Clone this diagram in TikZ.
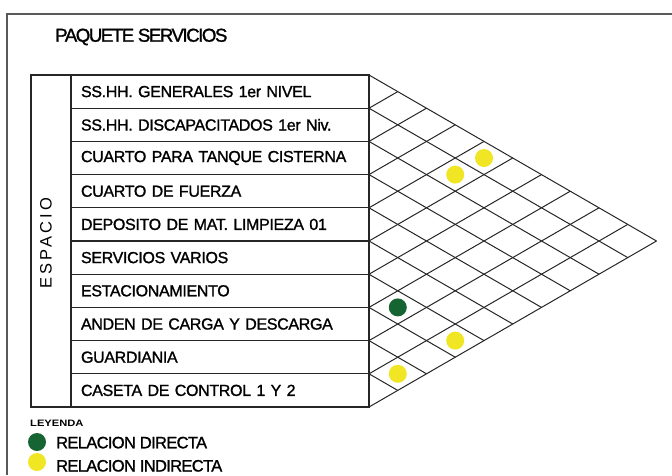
\documentclass[tikz,border=0pt]{standalone}
\usepackage{fontspec}
\setmainfont[FakeBold=1.3, LetterSpace=-2]{Liberation Sans}
\newfontfamily\titlefont[FakeBold=1.3, LetterSpace=-8]{Liberation Sans}
\newfontfamily\spacedfont[LetterSpace=19]{Liberation Sans}
\newfontfamily\legfont[FakeBold=1.3, LetterSpace=-4]{Liberation Sans}
\newfontfamily\leyfont[FakeStretch=1.2]{Liberation Sans}
\usepackage{xcolor}
\usepackage{tikz}
\usetikzlibrary{positioning}
\definecolor{reldirecta}{RGB}{22,100,50}
\definecolor{relindirecta}{RGB}{240,230,35}

\begin{document}
\begin{tikzpicture}[x=1pt, y=-1pt,
  espbox/.style={rectangle, draw=black!85, line width=1.1pt,
    text width=278pt, align=left, inner xsep=10pt, inner ysep=0pt,
    minimum height=33.2pt, outer sep=0pt,
    font=\fontsize{16}{17}\selectfont},
  colbox/.style={rectangle, draw=black!85, line width=1.1pt,
    minimum width=40pt, minimum height=332pt, inner sep=0pt, outer sep=0pt},
  gridline/.style={draw=black!85, line width=1pt},
  frame/.style={draw=black!65, line width=1.5pt},
  directa/.style={circle, fill=reldirecta, minimum size=18pt, inner sep=0pt},
  indirecta/.style={circle, fill=relindirecta, minimum size=18pt, inner sep=0pt},
  legtext/.style={anchor=base west, inner sep=0pt, font=\legfont\fontsize{16.5}{17}\selectfont}
]
\useasboundingbox (0,0) rectangle (672,475);
\draw[frame] (672,14) -- (7,14) -- (7,475);

\node[anchor=base west, inner sep=0pt, font=\titlefont\fontsize{18.7}{20}\selectfont] (title) at (55,41.7) {PAQUETE SERVICIOS};

% filas de espacios
\node[espbox, anchor=north west] (r1) at (71,75) {SS.HH. GENERALES 1er NIVEL};
\node[espbox, below=0pt of r1] (r2) {SS.HH. DISCAPACITADOS 1er Niv.};
\node[espbox, below=0pt of r2] (r3) {CUARTO PARA TANQUE CISTERNA};
\node[espbox, below=0pt of r3] (r4) {CUARTO DE FUERZA};
\node[espbox, below=0pt of r4] (r5) {DEPOSITO DE MAT. LIMPIEZA 01};
\node[espbox, below=0pt of r5] (r6) {SERVICIOS VARIOS};
\node[espbox, below=0pt of r6] (r7) {ESTACIONAMIENTO};
\node[espbox, below=0pt of r7] (r8) {ANDEN DE CARGA Y DESCARGA};
\node[espbox, below=0pt of r8] (r9) {GUARDIANIA};
\node[espbox, below=0pt of r9] (r10) {CASETA DE CONTROL 1 Y 2};

\node[colbox, anchor=north east] (col) at (r1.north west) {};
\node[rotate=90, font=\spacedfont\fontsize{16.5}{16.5}\selectfont] (esp) at ([xshift=-5pt,yshift=-2pt]col.center) {ESPACIO};

% matriz de relaciones
\coordinate (tri) at (r1.north east);
\foreach \k in {0,...,10}{
  \draw[gridline] ([yshift=-\k*33.2pt]tri) -- ++({(10-\k)*28.75},{(10-\k)*16.6});
  \draw[gridline] ([yshift=-\k*33.2pt]tri) -- ++({\k*28.75},{-\k*16.6});
}

\node[indirecta] (d1) at (484,158.0) {};
\node[indirecta] (d2) at (455.2,174.6) {};
\node[directa] (d3) at (397.8,307.4) {};
\node[indirecta] (d4) at (455.2,340.6) {};
\node[indirecta] (d5) at (397.8,373.8) {};

% leyenda
\node[anchor=base west, inner sep=0pt, font=\leyfont\bfseries\fontsize{9.3}{10}\selectfont] (ley) at (30,426.7) {LEYENDA};
\node[directa] (ldir) at (37,442) {};
\node[indirecta] (lind) at (37,462) {};
\node[legtext] (tdir) at (56,448.3) {RELACION DIRECTA};
\node[legtext] (tind) at (56,471.5) {RELACION INDIRECTA};
\end{tikzpicture}
\end{document}
